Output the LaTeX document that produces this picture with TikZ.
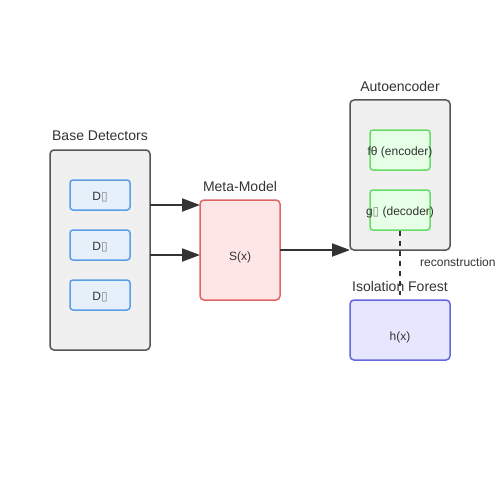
\documentclass[tikz,border=0pt]{standalone}
\usepackage{fontspec}
\setmainfont{Liberation Sans}
\newfontfamily\dejavu{DejaVu Sans}
\usetikzlibrary{arrows.meta}
\definecolor{txt}{HTML}{333333}
\definecolor{grpfill}{HTML}{F0F0F0}
\definecolor{grpline}{HTML}{555555}
\definecolor{bfill}{HTML}{E6F0FB}
\definecolor{bline}{HTML}{5B9EE6}
\definecolor{rfill}{HTML}{FFE6E6}
\definecolor{rline}{HTML}{E06666}
\definecolor{gfill}{HTML}{E6FFE6}
\definecolor{gline}{HTML}{66DD66}
\definecolor{vfill}{HTML}{E6E6FF}
\definecolor{vline}{HTML}{6666DD}
\newcommand{\tofu}{{\dejavu\color{gray}\fontsize{12}{12}\selectfont ▯}}
\tikzset{
  grp/.style={draw=grpline, fill=grpfill, line width=1.5pt, rounded corners=4pt, minimum width=100pt, inner sep=0pt},
  bluebox/.style={draw=bline, fill=bfill, line width=1.5pt, rounded corners=3pt, minimum width=60pt, minimum height=30pt, inner sep=0pt},
  redbox/.style={draw=rline, fill=rfill, line width=1.5pt, rounded corners=4pt, minimum width=80pt, minimum height=100pt, inner sep=0pt},
  greenbox/.style={draw=gline, fill=gfill, line width=1.5pt, rounded corners=3pt, minimum width=60pt, minimum height=40pt, inner sep=0pt},
  violetbox/.style={draw=vline, fill=vfill, line width=1.5pt, rounded corners=4pt, minimum width=100pt, minimum height=60pt, inner sep=0pt},
  ttl/.style={font=\fontsize{14}{16}\selectfont, text=txt, inner sep=0pt},
  small/.style={font=\fontsize{12}{14}\selectfont, text=txt, inner sep=0pt},
  flow/.style={draw=txt, line width=2pt, -{Triangle[length=18pt,width=13pt]}},
  dash line/.style={draw=txt, line width=2pt, dash pattern=on 5pt off 5pt},
}
\begin{document}
\begin{tikzpicture}[x=1pt,y=-1pt]
\useasboundingbox (0,0) rectangle (500,500);
% Base detectors
\node[grp, minimum height=200pt] (base) at (100,250) {};
\node[ttl] (baset) at (100,136) {Base Detectors};
\node[bluebox] (d1) at (100,195) {};
\node[bluebox] (d2) at (100,245) {};
\node[bluebox] (d3) at (100,295) {};
\node[small] (d1t) at (100,197) {D\tofu};
\node[small] (d2t) at (100,247) {D\tofu};
\node[small] (d3t) at (100,297) {D\tofu};
% Meta model
\node[redbox] (meta) at (240,250) {};
\node[small] (metas) at (240,257.5) {S(x)};
\node[ttl] (metat) at (240,186) {Meta-Model};
% Autoencoder
\node[grp, minimum height=150pt] (ae) at (400,175) {};
\node[ttl] (aet) at (400,86) {Autoencoder};
\node[greenbox] (enc) at (400,150) {};
\node[small] (enct) at (400,152.5) {fθ (encoder)};
\node[greenbox] (dec) at (400,210) {};
\node[small] (dect) at (400,212.5) {g\tofu\ (decoder)};
% Isolation forest
\node[violetbox] (iso) at (400,330) {};
\node[small] (isot) at (400,337.5) {h(x)};
\node[ttl] (isott) at (400,286) {Isolation Forest};
% connectors
\coordinate (o1) at (150,205);
\coordinate (o2) at (150,255);
\coordinate (m1) at (200,205);
\coordinate (m2) at (200,255);
\draw[flow] (o1) -- (m1);
\draw[flow] (o2) -- (m2);
\coordinate (ms) at (280,250);
\coordinate (ae1) at (350,250);
\draw[flow] (ms) -- (ae1);
\coordinate (dend) at (400,295);
\draw[dash line] (dec.south) -- (dend);
\node[small, anchor=west] (rec) at (420,262) {reconstruction};
\end{tikzpicture}
\end{document}
